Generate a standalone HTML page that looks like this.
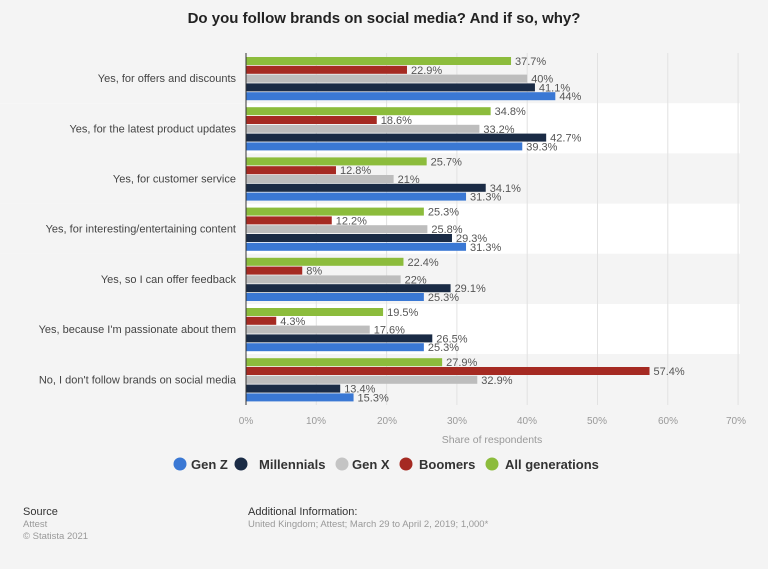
<!DOCTYPE html><html><head><meta charset="utf-8"><style>body{margin:0;background:#f4f4f4}svg{display:block;font-family:"Liberation Sans",Arial,sans-serif}</style></head><body>
<svg width="768" height="569" viewBox="0 0 768 569" xmlns="http://www.w3.org/2000/svg">
<rect width="768" height="569" fill="#f4f4f4"/>
<text x="384" y="23" text-anchor="middle" font-size="15" font-weight="bold" fill="#222">Do you follow brands on social media? And if so, why?</text>
<g id="bands"></g>
<g id="grid"></g>
<g id="bars"></g>
<line x1="246" y1="53" x2="246" y2="405" stroke="#333" stroke-width="1"/>
<g font-size="10" fill="#999" text-anchor="middle">
<text x="246" y="424">0%</text><text x="316" y="424">10%</text><text x="387" y="424">20%</text><text x="457" y="424">30%</text><text x="527" y="424">40%</text><text x="597" y="424">50%</text><text x="668" y="424">60%</text><text x="736" y="424">70%</text>
</g>
<text x="492" y="443" text-anchor="middle" font-size="10.5" fill="#999">Share of respondents</text>
<g font-size="13" font-weight="bold" fill="#333">
<circle cx="180" cy="464" r="6.5" fill="#3a78d4"/><text x="191" y="469">Gen Z</text>
<circle cx="241" cy="464" r="6.5" fill="#1a2b45"/><text x="259" y="469">Millennials</text>
<circle cx="342" cy="464" r="6.5" fill="#c4c4c4"/><text x="352" y="469">Gen X</text>
<circle cx="406" cy="464" r="6.5" fill="#a52a22"/><text x="419" y="469">Boomers</text>
<circle cx="492" cy="464" r="6.5" fill="#8cbc3c"/><text x="505" y="469">All generations</text>
</g>
<text x="23" y="515" font-size="11" fill="#333">Source</text>
<text x="23" y="527" font-size="9.5" fill="#999">Attest</text>
<text x="23" y="539" font-size="9.5" fill="#999">© Statista 2021</text>
<text x="248" y="515" font-size="11" fill="#333">Additional Information:</text>
<text x="248" y="527" font-size="9.5" fill="#999">United Kingdom; Attest; March 29 to April 2, 2019; 1,000*</text>
</svg>
<script>
const cats=["Yes, for offers and discounts","Yes, for the latest product updates","Yes, for customer service","Yes, for interesting/entertaining content","Yes, so I can offer feedback","Yes, because I'm passionate about them","No, I don't follow brands on social media"];
const d=[[37.7,22.9,40,41.1,44],[34.8,18.6,33.2,42.7,39.3],[25.7,12.8,21,34.1,31.3],[25.3,12.2,25.8,29.3,31.3],[22.4,8,22,29.1,25.3],[19.5,4.3,17.6,26.5,25.3],[27.9,57.4,32.9,13.4,15.3]];
const col=["#8cbc3c","#a52a22","#bdbdbd","#1a2b45","#3a78d4"];
const ns="http://www.w3.org/2000/svg";
function el(p,t,a,txt){const e=document.createElementNS(ns,t);for(const k in a)e.setAttribute(k,a[k]);if(txt!==undefined)e.textContent=txt;document.getElementById(p).appendChild(e);}
const x0=246,s=7.03,pitch=50.2;
for(let i=0;i<7;i++){const y=53+i*pitch;
 el("bands","rect",{x:0,y:y,width:740,height:pitch,fill:i%2?"#ffffff":"#f4f4f4"});
 if(i%2) el("bands","rect",{x:0,y:y,width:246,height:pitch,fill:"#f4f4f4"});
 el("bars","text",{x:236,y:y+pitch/2+4,"text-anchor":"end","font-size":"11","fill":"#444"},cats[i]);
 for(let j=0;j<5;j++){const by=y+4+j*8.8;const w=d[i][j]*s;
  el("bars","rect",{x:x0,y:by,width:w,height:8,fill:col[j]});
  el("bars","text",{x:x0+w+4,y:by+8,"font-size":"11","fill":"#555"},String(d[i][j])+"%");}
}
for(let k=1;k<=7;k++){const gx=x0+k*70.3;el("grid","line",{x1:gx,y1:53,x2:gx,y2:405,stroke:"#e2e2e2","stroke-width":1});}
</script>
</body></html>
